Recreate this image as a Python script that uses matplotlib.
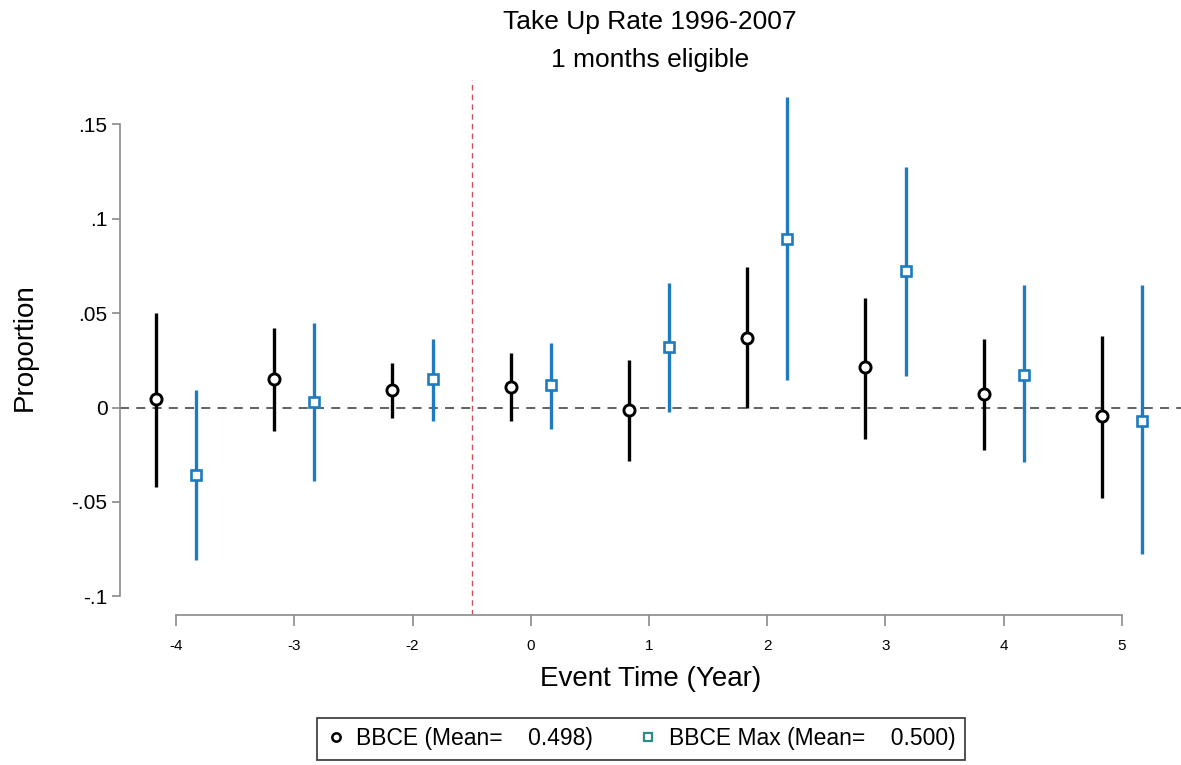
import matplotlib.pyplot as plt
from matplotlib.lines import Line2D

plt.rcParams['font.family'] = ['Liberation Sans', 'DejaVu Sans']

# event years (the -1 reference year is omitted)
event_labels = ['-4', '-3', '-2', '0', '1', '2', '3', '4', '5']

# BBCE point estimates and 95% CI
bbce = [0.0045, 0.015, 0.009, 0.011, -0.0013, 0.037, 0.0215, 0.007, -0.0045]
bbce_lo = [-0.042, -0.0125, -0.0053, -0.007, -0.0284, 0.0, -0.0165, -0.0223, -0.0478]
bbce_hi = [0.050, 0.042, 0.0234, 0.0288, 0.025, 0.0743, 0.058, 0.036, 0.0377]

# BBCE Max point estimates and 95% CI
bbce_max = [-0.0355, 0.0027, 0.0149, 0.0119, 0.032, 0.089, 0.072, 0.017, -0.0074]
bbce_max_lo = [-0.0805, -0.039, -0.007, -0.0114, -0.0024, 0.0143, 0.0165, -0.029, -0.0775]
bbce_max_hi = [0.009, 0.0445, 0.036, 0.034, 0.066, 0.1645, 0.127, 0.065, 0.065]

yticks = [-0.1, -0.05, 0, 0.05, 0.1, 0.15]
ytick_labels = ['-.1', '-.05', '0', '.05', '.1', '.15']

blue = '#1f7bbf'
W, H = 1181, 765
fig = plt.figure(figsize=(W / 100, H / 100), dpi=100)
ax = fig.add_axes([120 / W, 1 - 615 / H, (W - 120) / W, 535 / H])

pos = list(range(len(event_labels)))
off = 0.17
xb = [p - off for p in pos]
xm = [p + off for p in pos]

ax.axhline(0, color='#555555', lw=1.3, ls=(0, (5, 4)), zorder=1)
ax.axvline(2.5, color='#c8505f', lw=1.0, ls=(0, (4, 3)), zorder=1)

ax.vlines(xb, bbce_lo, bbce_hi, color='black', lw=2.4, zorder=2)
ax.plot(xb, bbce, 'o', ms=8, mfc='white', mec='black', mew=2.1, zorder=3)
ax.vlines(xm, bbce_max_lo, bbce_max_hi, color=blue, lw=2.4, zorder=2)
ax.plot(xm, bbce_max, 's', ms=7.5, mfc='white', mec=blue, mew=1.9, zorder=3)

ax.set_xlim(-0.4736, 8.499)
ax.set_ylim(-0.1098, 0.1733)

for s in ['top', 'right']:
    ax.spines[s].set_visible(False)
for s in ['left', 'bottom']:
    ax.spines[s].set_color('#8a8a8a')
    ax.spines[s].set_linewidth(1.2)
ax.spines['bottom'].set_bounds(0, 8)
ax.spines['left'].set_bounds(-0.1, 0.15)

ax.set_xticks(pos)
ax.set_xticklabels(event_labels, fontsize=11)
ax.set_yticks(yticks)
ax.set_yticklabels(ytick_labels, fontsize=15)
ax.tick_params(axis='x', length=8, width=1.2, color='#8a8a8a', pad=9)
ax.tick_params(axis='y', length=6, width=1.2, color='#8a8a8a', pad=3)

ax.set_xlabel('Event Time (Year)', fontsize=20, labelpad=10)
ax.set_ylabel('Proportion', fontsize=20, labelpad=24)

fig.text(650 / W, 1 - 22 / H, 'Take Up Rate 1996-2007', ha='center', va='center', fontsize=19)
fig.text(650 / W, 1 - 60 / H, '1 months eligible', ha='center', va='center', fontsize=19)

handles = [
    Line2D([], [], ls='none', marker='o', ms=6, mfc='white', mec='black', mew=1.8),
    Line2D([], [], ls='none', marker='s', ms=6, mfc='white', mec='#2a8c86', mew=1.6),
]
labels = ['BBCE (Mean=    0.498)', 'BBCE Max (Mean=    0.500)']
leg = fig.legend(handles, labels, loc='center', bbox_to_anchor=(641 / W, 1 - 739 / H),
                 ncol=2, fontsize=16.5, frameon=True, fancybox=False, edgecolor='black',
                 handlelength=0.8, handletextpad=0.5, columnspacing=2.0,
                 borderpad=0.4, borderaxespad=0)
leg.get_frame().set_linewidth(1.2)

fig.savefig('out.png', dpi=100, facecolor='white')
